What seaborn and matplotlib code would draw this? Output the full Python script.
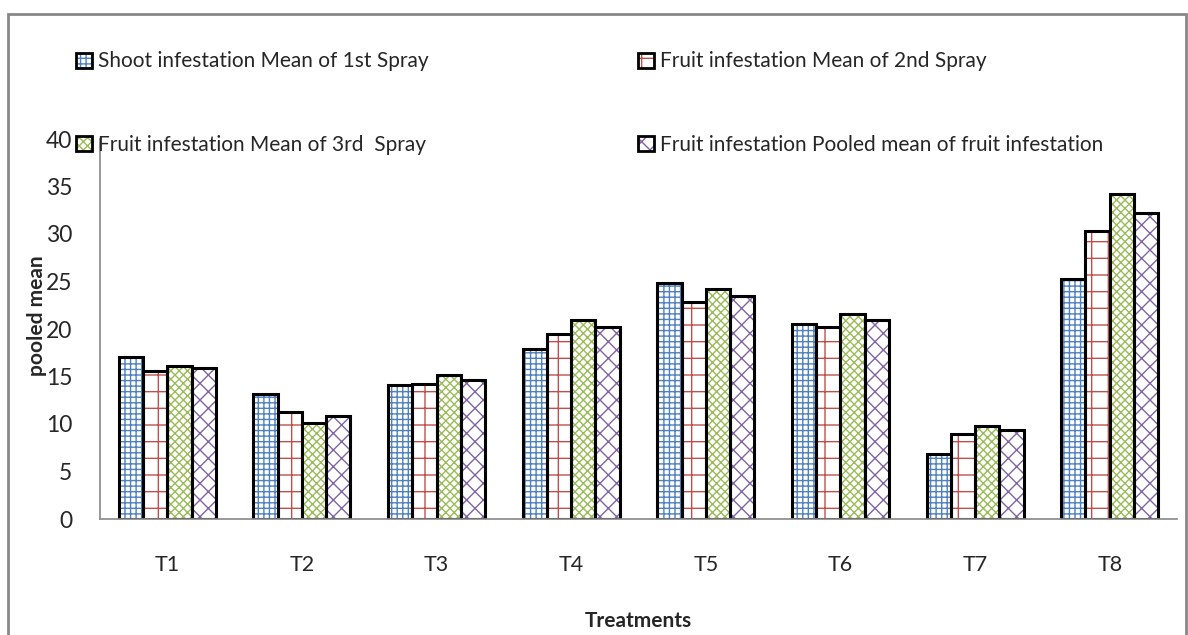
import matplotlib
matplotlib.use("Agg")
import matplotlib.pyplot as plt
from matplotlib.patches import Patch, Rectangle
import seaborn as sns
import pandas as pd

# data
treatments = ["T1", "T2", "T3", "T4", "T5", "T6", "T7", "T8"]
spray1 = [17.1, 13.2, 14.1, 17.9, 24.8, 20.5, 6.8, 25.3]
spray2 = [15.6, 11.3, 14.2, 19.5, 22.8, 20.2, 9.0, 30.3]
spray3 = [16.1, 10.1, 15.2, 20.9, 24.2, 21.6, 9.8, 34.2]
pooled = [15.9, 10.8, 14.6, 20.2, 23.5, 20.9, 9.4, 32.2]
series_names = [
    "Shoot infestation Mean of 1st Spray",
    "Fruit infestation Mean of 2nd Spray",
    "Fruit infestation Mean of 3rd  Spray",
    "Fruit infestation Pooled mean of fruit infestation",
]

colores = ["#4F81BD", "#C0504D", "#9BBB59", "#8064A2"]
hatches = ["+++", "+", "xxxx", "xx"]

df = pd.DataFrame({
    "treatment": treatments * 4,
    "serie": [s for s in series_names for _ in treatments],
    "valor": spray1 + spray2 + spray3 + pooled,
})

sns.set_style("white")
plt.rcParams["font.family"] = ["Lato", "DejaVu Sans"]
plt.rcParams["hatch.linewidth"] = 1.0

fig = plt.figure(figsize=(11.88, 6.35), dpi=100)
ax = fig.add_axes([100 / 1188, 1 - 519 / 635, 1077 / 1188, 380 / 635])

# relleno con tramas de color
sns.barplot(data=df, x="treatment", y="valor", hue="serie", hue_order=series_names,
            palette=["white"] * 4, width=0.72, gap=0, legend=False, ax=ax)
n = len(treatments)
for i, bar in enumerate(ax.patches):
    k = i // n
    bar.set_hatch(hatches[k])
    bar.set_edgecolor(colores[k])
    bar.set_linewidth(0)

# contornos negros encima
sns.barplot(data=df, x="treatment", y="valor", hue="serie", hue_order=series_names,
            fill=False, width=0.72, gap=0, legend=False, ax=ax)
for bar in ax.patches[4 * n:]:
    bar.set_edgecolor("black")
    bar.set_linewidth(2.2)
    bar.set_hatch(None)

ax.set_ylim(0, 40)
ax.set_xlim(-0.5, n - 0.5)
ax.set_yticks(range(0, 41, 5))
ax.set_xticks([i - 0.5 for i in range(n + 1)], minor=True)
ax.tick_params(axis="x", which="major", length=0, pad=26, labelsize=15.5)
ax.tick_params(axis="x", which="minor", length=8, color="#888888", direction="out")
ax.tick_params(axis="y", length=8, color="#888888", direction="out", labelsize=16.5, pad=12)
for lado in ["top", "right"]:
    ax.spines[lado].set_visible(False)
for lado in ["left", "bottom"]:
    ax.spines[lado].set_color("#888888")
    ax.spines[lado].set_linewidth(1.2)

ax.set_xlabel("Treatments", fontsize=15, fontweight="bold", labelpad=26)
ax.set_ylabel("pooled mean", fontsize=15, fontweight="bold")
ax.yaxis.set_label_coords(-0.049, 0.534)

# leyenda: filas como en el original (1st, 2nd / 3rd, pooled)
orden = [0, 2, 1, 3]
handles = []
for k in orden:
    relleno = Patch(facecolor="white", edgecolor=colores[k], hatch=hatches[k], linewidth=0)
    borde = Patch(facecolor="none", edgecolor="black", linewidth=2.0)
    handles.append((relleno, borde))
leg = fig.legend(handles, [series_names[k] for k in orden], ncol=2, loc="upper left",
                 bbox_to_anchor=(66 / 1188, 1 - 41 / 635), frameon=False,
                 fontsize=15, handlelength=0.75, handleheight=0.75, handletextpad=0.3,
                 labelspacing=3.05, columnspacing=10.05, borderpad=0)

# marco gris del grafico
fig.patches.append(Rectangle((8 / 1188, -0.05), 1178 / 1188, 1.05 - 14 / 635,
                             transform=fig.transFigure, fill=False,
                             edgecolor="#888888", linewidth=2.0))

fig.savefig("out.png", dpi=100)
